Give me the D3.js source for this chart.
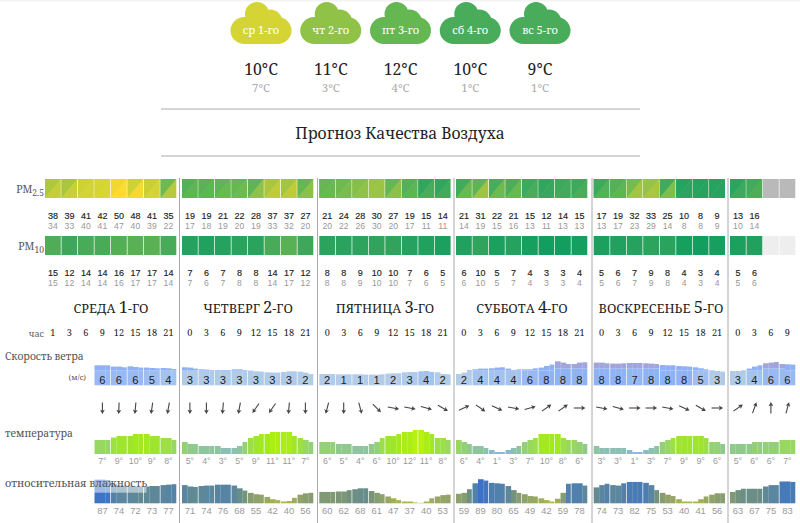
<!DOCTYPE html>
<html><head><meta charset="utf-8">
<script src="https://cdn.jsdelivr.net/npm/d3@7"></script>
<style>html,body{margin:0;padding:0;background:#fff;overflow:hidden}svg{display:block}
.s{font-family:"Noto Serif","DejaVu Serif","Liberation Serif",serif}.a{font-family:"Liberation Sans",Arial,sans-serif}</style>
</head><body><svg id="c" width="800" height="523"></svg>
<script>
const cloudLabels=["ср 1-го","чт 2-го","пт 3-го","сб 4-го","вс 5-го"];
const cloudPm=[41,28,20,15,15];
const tempHigh=[10,11,12,10,9];
const tempLow=[7,3,4,1,1];
const title="Прогноз Качества Воздуха";
const dayNames=[["среда ","1","-го"],["четверг ","2","-го"],["пятница ","3","-го"],["суббота ","4","-го"],["воскресенье ","5","-го"]];
const hours=[[1,3,6,9,12,15,18,21],[0,3,6,9,12,15,18,21],[0,3,6,9,12,15,18,21],[0,3,6,9,12,15,18,21],[0,3,6,9,12,15,18,21],[0,3,6,9]];
const pm25High=[[38,39,41,42,50,48,41,35],[19,19,21,22,28,37,37,27],[21,24,28,30,27,19,15,14],[21,31,22,21,15,12,14,15],[17,19,32,33,25,10,8,9],[13,16,null,null]];
const pm25Low=[[34,33,40,41,47,40,39,22],[17,18,19,20,19,33,32,20],[20,22,26,30,20,17,11,11],[14,19,15,16,13,11,13,13],[13,17,23,29,14,8,8,9],[10,14,null,null]];
const pm10High=[[15,12,14,14,16,17,17,14],[7,6,7,8,8,14,17,12],[8,8,9,10,10,7,6,5],[6,10,5,7,4,3,3,4],[5,6,7,9,8,4,3,4],[5,6,null,null]];
const windLabels=[[6,6,6,5,4],[3,3,3,3,3,3,3,2],[2,1,1,1,2,3,4,2],[2,4,4,4,6,8,8,8],[8,8,7,8,8,8,5,3],[3,4,6,6]];
const windHourly=[
[20,20,20,18.7,18.7,18,19,18.3,17.7,17.7,17.3,17,17.3,17,16.3],
[18,17.7,16.7,16,15.7,15.3,15.3,15.3,15.3,16,16,15.3,14.7,14,13.7,13,12.7,12.7,13.3,14,14,13.7,12.7,11.3],
[11.3,11.3,11.3,11,11,11,11,11,10.7,10.7,10.7,11,11.7,12,12,13,13.3,13.3,14,14.3,13.3,13,11.3,11],
[11.3,12.7,15.3,16,16.7,16.7,17,17.7,18,16.7,15.3,16,16,16,17,17.7,19.3,20.7,24,22.7,21.3,21.3,22.7,23],
[22.7,22.7,22,21.7,21.7,22,22.3,22.3,22.3,22,21.7,21.3,20.3,20,20,19.3,19,18.7,18,17,16,15,14.3,13.7],
[14.3,14.3,15,16.7,18.7,20,22,22.7,23.3,21.3,21,20.7]];
const windDir=[[180,182,185,188,190],[180,180,185,190,215,215,185,180],[195,180,165,135,100,100,105,120],[65,125,115,100,75,55,55,90],[100,105,90,90,100,115,120,90],[55,20,0,15]];
const tempLabels=[[7,9,10,9,8],[5,4,3,5,9,11,11,7],[6,5,4,6,10,12,11,8],[6,4,1,3,7,10,8,6],[3,3,1,3,7,9,9,6],[5,6,6,7]];
const tempHourly=[
[7,7,7,8.2,9,9,9,10,10,10,9,9,8,8,7],
[6,5,5,4,4,4,4,3,3,3,4,6,8,9,10,10,11,11,11,11,9,8,7,6],
[6,6,6,5,5,5,4,4,4,5,6,8,9,9,10,11,11,12,12,11,10,8,8,7],
[7,6,5,4,4,3,2,1,1,2,3,4,6,7,8,10,10,10,10,8,7,7,6,5],
[4,3,3,3,3,3,2,1,1,2,3,4,6,7,8,9,9,9,9,9,8,6,6,5],
[5,5,5,5,6,6,6,6,6,7,7,7]];
const humLabels=[[87,74,72,73,77],[71,74,76,68,55,42,40,56],[60,62,68,61,47,37,40,53],[59,89,80,65,49,42,59,78],[74,73,82,75,53,40,41,56],[63,67,75,83]];
const humHourly=[
[87,87,86,78,75,74,74,72,72,72,73,73,75,76,77],
[75,72,71,73,74,74,76,76,76,74,68,63,58,55,54,49,44,42,39,40,47,54,57,58],
[60,60,60,61,61,64,66,68,68,62,58,55,50,46,42,39,39,37,36,39,46,50,53,54],
[56,58,66,79,88,85,80,79,78,73,64,58,55,51,50,46,42,39,45,58,78,79,79,74],
[70,75,78,75,74,79,82,82,82,80,75,64,58,54,51,44,39,39,39,44,50,54,57,57],
[60,64,67,67,67,67,72,75,75,83,83,82]];
const windFirstCell=[3,0,0,0,0,0];
const dayStart=[45,182,319.3,456,593.7,730];
const separators=[179.5,317.5,454,592,728];
const headingX=[111,248,385,522,661];

const svg=d3.select("#c"),serif='s',sans='a';
const step=16.5,sub=5.5;
const cellX=(d,i)=>dayStart[d]+i*step;
const pmColor=d3.scaleLinear().domain([5,10,15,19,22,28,33,38,41,47,50]).range(["#1ca160","#2ba45f","#48ac5a","#5eb553","#6fba4e","#90c248","#a9c63e","#c4ce36","#d4d434","#f0d830","#fedb2e"]);
const pm10Color=d3.scaleLinear().domain([3,5,8,10,12,14,17]).range(["#109f5f","#1ba060","#2aa35f","#30a45d","#3ea75a","#48ab58","#5ab055"]);
const tempColor=d3.scaleLinear().domain([1,3,5,7,9,10,12]).range(["#8cb6de","#8cc0b2","#8fc98c","#98d860","#9fe52e","#a2ea1e","#b8f010"]);
const humColor=d3.scaleLinear().domain([37,55,65,75,88]).range(["#b0b84a","#8fa26a","#6f9080","#5a86a0","#3b72c8"]);
const windLow=d3.scaleLinear().domain([1,3,4,6,8]).range(["#b2cce8","#b0cbe8","#a4c2ee","#98b9f2","#8fb2f4"]);
const tempH=d3.scaleLinear().domain([0,12]).range([0,24]);
const humH=d3.scaleLinear().domain([35,90]).range([0,25]);
const windH=d3.scaleLinear().domain([0,25]).range([0,25]);
function txt(x,y,t,o={}){return svg.append("text").attr("x",x).attr("y",y).attr("class",o.c||serif).attr("text-anchor",o.a||"middle")
 .attr("font-size",o.s||10).attr("fill",o.f||"#333").text(t)}

svg.append("rect").attr("width",800).attr("height",1.5).attr("fill","#f3f3f3");
// clouds
const cloudX=d3.scaleLinear().domain([0,4]).range([261,540]);
cloudLabels.forEach((l,i)=>{const x=cloudX(i),g=svg.append("g").attr("fill",pmColor(cloudPm[i]));
 g.append("rect").attr("x",x-30.5).attr("y",17).attr("width",61).attr("height",27).attr("rx",14);
 g.append("circle").attr("cx",x-4).attr("cy",14).attr("r",12);
 g.append("circle").attr("cx",x+9).attr("cy",22).attr("r",12.5);
 txt(x,34,l,{s:11,f:"#fff"});
 txt(x,75,tempHigh[i]+"°C",{s:15.8,f:"#222"});
 txt(x,92,tempLow[i]+"°C",{s:11.4,f:"#aaa"});
});
[109,156].forEach(y=>svg.append("line").attr("x1",161).attr("x2",640).attr("y1",y).attr("y2",y).attr("stroke","#aaa"));
txt(400,139,title,{s:15.7,f:"#222"});
separators.forEach(x=>svg.append("line").attr("x1",x).attr("x2",x).attr("y1",178).attr("y2",523).attr("stroke","#aaa").attr("stroke-width",1));

// PM rows
const pmLbl=(y,sb)=>{const t=txt(44,y,"PM",{a:"end",s:10.5,f:"#555"});t.append("tspan").attr("dy",3).attr("font-size",8.5).text(sb)};
pmLbl(193,"2.5");pmLbl(250,"10");
const num=(x,y,v)=>txt(x,y,v,{c:sans,s:9,f:"#222"}).attr("stroke","#222").attr("stroke-width",.15);
pm25High.forEach((row,d)=>row.forEach((v,i)=>{
 const x=cellX(d,i),w=15.8,y=179,h=19;
 if(v==null){svg.append("rect").attr("x",x).attr("y",y).attr("width",w).attr("height",h).attr("fill","#b9b9b9");
  svg.append("rect").attr("x",x).attr("y",236).attr("width",w).attr("height",h).attr("fill","#eeeeee");return;}
 const lo=pm25Low[d][i];
 svg.append("rect").attr("x",x).attr("y",y).attr("width",w).attr("height",h).attr("fill",pmColor(v));
 svg.append("path").attr("d",d3.line()([[x,y],[x+w,y],[x,y+h]])+"Z").attr("fill",pmColor(lo));
 svg.append("line").attr("x1",x).attr("y1",y+h).attr("x2",x+w).attr("y2",y).attr("stroke","#fff").attr("stroke-opacity",.12).attr("stroke-width",.6);
 svg.append("rect").attr("x",x).attr("y",236).attr("width",w).attr("height",h).attr("fill",pm10Color(pm10High[d][i]));
 const cx=x+w/2;
 num(cx,219,v);
 txt(cx,228.5,lo,{c:sans,s:8.6,f:"#999"});
 num(cx,276,pm10High[d][i]);
 txt(cx,286,pm10High[d][i],{c:sans,s:8.6,f:"#999"});
}));

// headings
dayNames.forEach((n,d)=>{const t=txt(headingX[d],313,null,{s:12.7,f:"#222"});
 t.append("tspan").text(n[0].toUpperCase());
 t.append("tspan").attr("font-size",16.5).text(n[1]);
 t.append("tspan").text(n[2].toUpperCase());
});
txt(44,336.5,"час",{a:"end",s:9,f:"#666"});
hours.forEach((r,d)=>r.forEach((h,i)=>txt(cellX(d,i)+7.9,335.5,h,{s:9.2,f:"#222"})));

// row labels
txt(5,359.5,"Скорость ветра",{a:"start",s:10.3,f:"#555"});
txt(86,380,"(м/с)",{a:"end",s:7.6,f:"#555"});
txt(5,436.5,"температура",{a:"start",s:10.3,f:"#555"});

// hourly bars
function bars(data,base,hFn,colFn){data.forEach((r,d)=>r.forEach((v,k)=>{
 const start=cellX(d,windFirstCell[d]),x=start+k*sub,last=k%3==2,w=last?4.8:sub+.15;
 colFn(v,x,w,d,k,hFn,base);
}))}
bars(windHourly,385.3,windH,(v,x,w,d,k,hFn,base)=>{
 const lab=windLabels[d][Math.floor(k/3)];
 const high=lab>=6&&v>21;
 const t=windH(high?17:14.7),h=hFn(v);
 const lowC=windLow(lab);
 svg.append("rect").attr("x",x).attr("y",base-Math.min(h,t)).attr("width",w).attr("height",Math.min(h,t)).attr("fill",lowC);
 if(h>t)svg.append("rect").attr("x",x).attr("y",base-h).attr("width",w).attr("height",h-t).attr("fill",high?"#a0a6dc":"#8fb0f5");
});
windLabels.forEach((r,d)=>r.forEach((v,i)=>{
 const cx=cellX(d,windFirstCell[d]+i)+7.9;
 txt(cx,384,v,{c:sans,s:11.2,f:"#222"});
 const g=svg.append("g").attr("transform",`translate(${cx},408) rotate(${windDir[d][i]})`);
 g.append("line").attr("x1",0).attr("x2",0).attr("y1",5.5).attr("y2",-4).attr("stroke","#444").attr("stroke-width",1.1);
 g.append("path").attr("d","M0,-6L2.4,-1.8L0,-2.8L-2.4,-1.8Z").attr("fill","#444");
}));
bars(tempHourly,454,tempH,(v,x,w,d,k,hFn,base)=>svg.append("rect").attr("x",x).attr("y",base-hFn(v)).attr("width",w).attr("height",hFn(v)).attr("fill",tempColor(v)));
tempLabels.forEach((r,d)=>r.forEach((v,i)=>txt(cellX(d,windFirstCell[d]+i)+7.9,463.5,v+"°",{c:sans,s:8.8,f:"#999"})));
bars(humHourly,503.3,humH,(v,x,w,d,k,hFn,base)=>svg.append("rect").attr("x",x).attr("y",base-hFn(v)).attr("width",w).attr("height",hFn(v)).attr("fill",humColor(v)));
humLabels.forEach((r,d)=>r.forEach((v,i)=>txt(cellX(d,windFirstCell[d]+i)+7.9,513.5,v,{c:sans,s:9.4,f:"#999"})));
svg.append("rect").attr("x",0).attr("y",476).attr("width",146.5).attr("height",16.7).attr("fill","#fff").attr("opacity",.5);
txt(5,486.5,"относительная влажность",{a:"start",s:10.8,f:"#555"});
</script></body></html>
